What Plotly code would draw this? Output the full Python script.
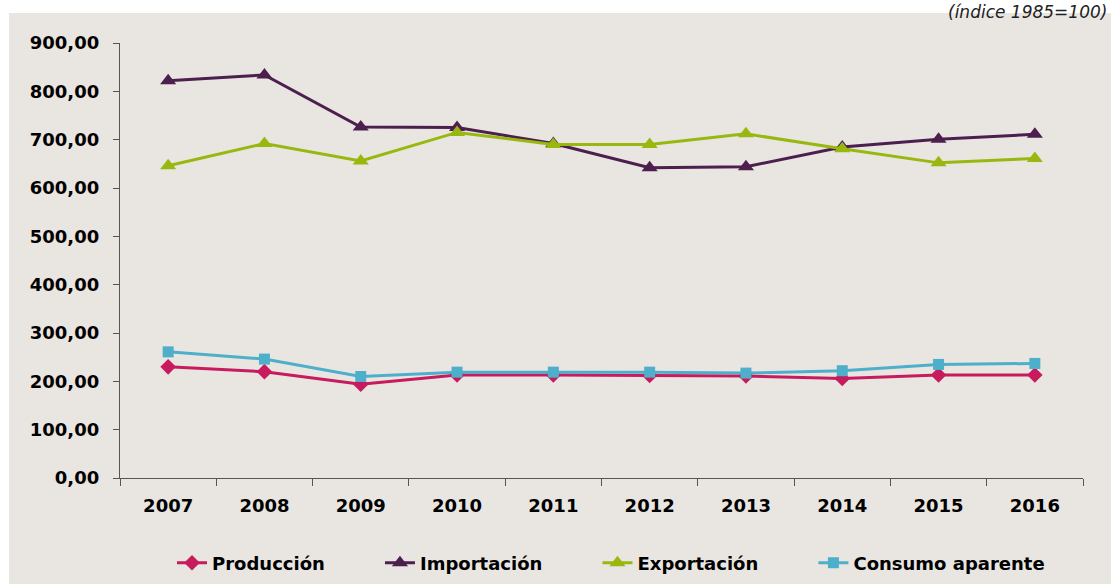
import plotly.graph_objects as go

years = ['2007', '2008', '2009', '2010', '2011', '2012', '2013', '2014', '2015', '2016']
produccion = [230, 220, 194, 213, 213, 212, 211, 206, 213, 213]
importacion = [822, 834, 726, 725, 692, 642, 644, 685, 701, 711]
exportacion = [646, 692, 656, 715, 690, 690, 712, 681, 652, 661]
consumo = [261, 246, 210, 219, 219, 219, 217, 222, 235, 237]
y_ticks = [0, 100, 200, 300, 400, 500, 600, 700, 800, 900]

bg = '#E9E6E2'
font_family = 'DejaVu Sans'
pad = '\u00a0' * 8  # spacing between legend entries

fig = go.Figure()

series = [
    ('Producción' + pad, produccion, '#C71B5E', 'diamond', 12),
    ('Importación' + pad, importacion, '#4D1F4E', 'triangle-up', 14),
    ('Exportación' + pad, exportacion, '#98B80F', 'triangle-up', 14),
    ('Consumo aparente', consumo, '#4EAFCB', 'square', 11),
]
for name, vals, color, symbol, size in series:
    fig.add_trace(go.Scatter(
        x=years, y=vals, name=name, mode='lines+markers',
        line=dict(color=color, width=3),
        marker=dict(symbol=symbol, size=size, color=color),
    ))

W, H = 1111, 584
L, R, T, B = 120, 28, 43, 106
pw, ph = float(W - L - R), float(H - T - B)

# grey panel behind the chart, leaving a thin white strip at left/top
fig.add_shape(type='rect', xref='paper', yref='paper',
              x0=(9 - L) / pw, x1=(W + 5 - L) / pw,
              y0=-B / ph - 0.05, y1=(H - B - 13) / ph,
              fillcolor=bg, line=dict(width=0), layer='below')

fig.add_annotation(text='<i>(índice 1985=100)</i>', xref='paper', yref='paper',
                   x=(W - 2 - L) / pw, y=(H - B) / ph,
                   xanchor='right', yanchor='top', showarrow=False,
                   font=dict(family=font_family, size=17, color='#222222', weight='normal'))

fig.update_layout(
    width=W, height=H,
    margin=dict(l=L, r=R, t=T, b=B),
    paper_bgcolor='white', plot_bgcolor='rgba(0,0,0,0)',
    separators=',.',
    font=dict(family=font_family, size=18, color='black', weight='bold'),
    showlegend=True,
    legend=dict(orientation='h', xref='container', yref='container',
                x=172 / W, xanchor='left', y=(H - 563) / H, yanchor='middle',
                font=dict(family=font_family, size=18, color='black', weight='bold'),
                bgcolor='rgba(0,0,0,0)'),
)
fig.update_xaxes(type='category', range=[-0.5, len(years) - 0.5], showgrid=False,
                 showline=True, linecolor='#555555', linewidth=1.3,
                 ticks='outside', tickson='boundaries', ticklen=7, tickcolor='#555555',
                 ticklabelstandoff=11, automargin=False)
fig.update_yaxes(range=[0, 900], tickvals=y_ticks, tickformat='.2f', showgrid=False,
                 zeroline=False, showline=True, linecolor='#555555', linewidth=1.3,
                 ticks='outside', ticklen=6, tickcolor='#555555',
                 ticklabelstandoff=10, automargin=False)

# drop the default page margin so the figure sits at the window's corner
fig.write_html('out.html', config={'displayModeBar': False},
               post_script="document.body.style.margin = '0';")
